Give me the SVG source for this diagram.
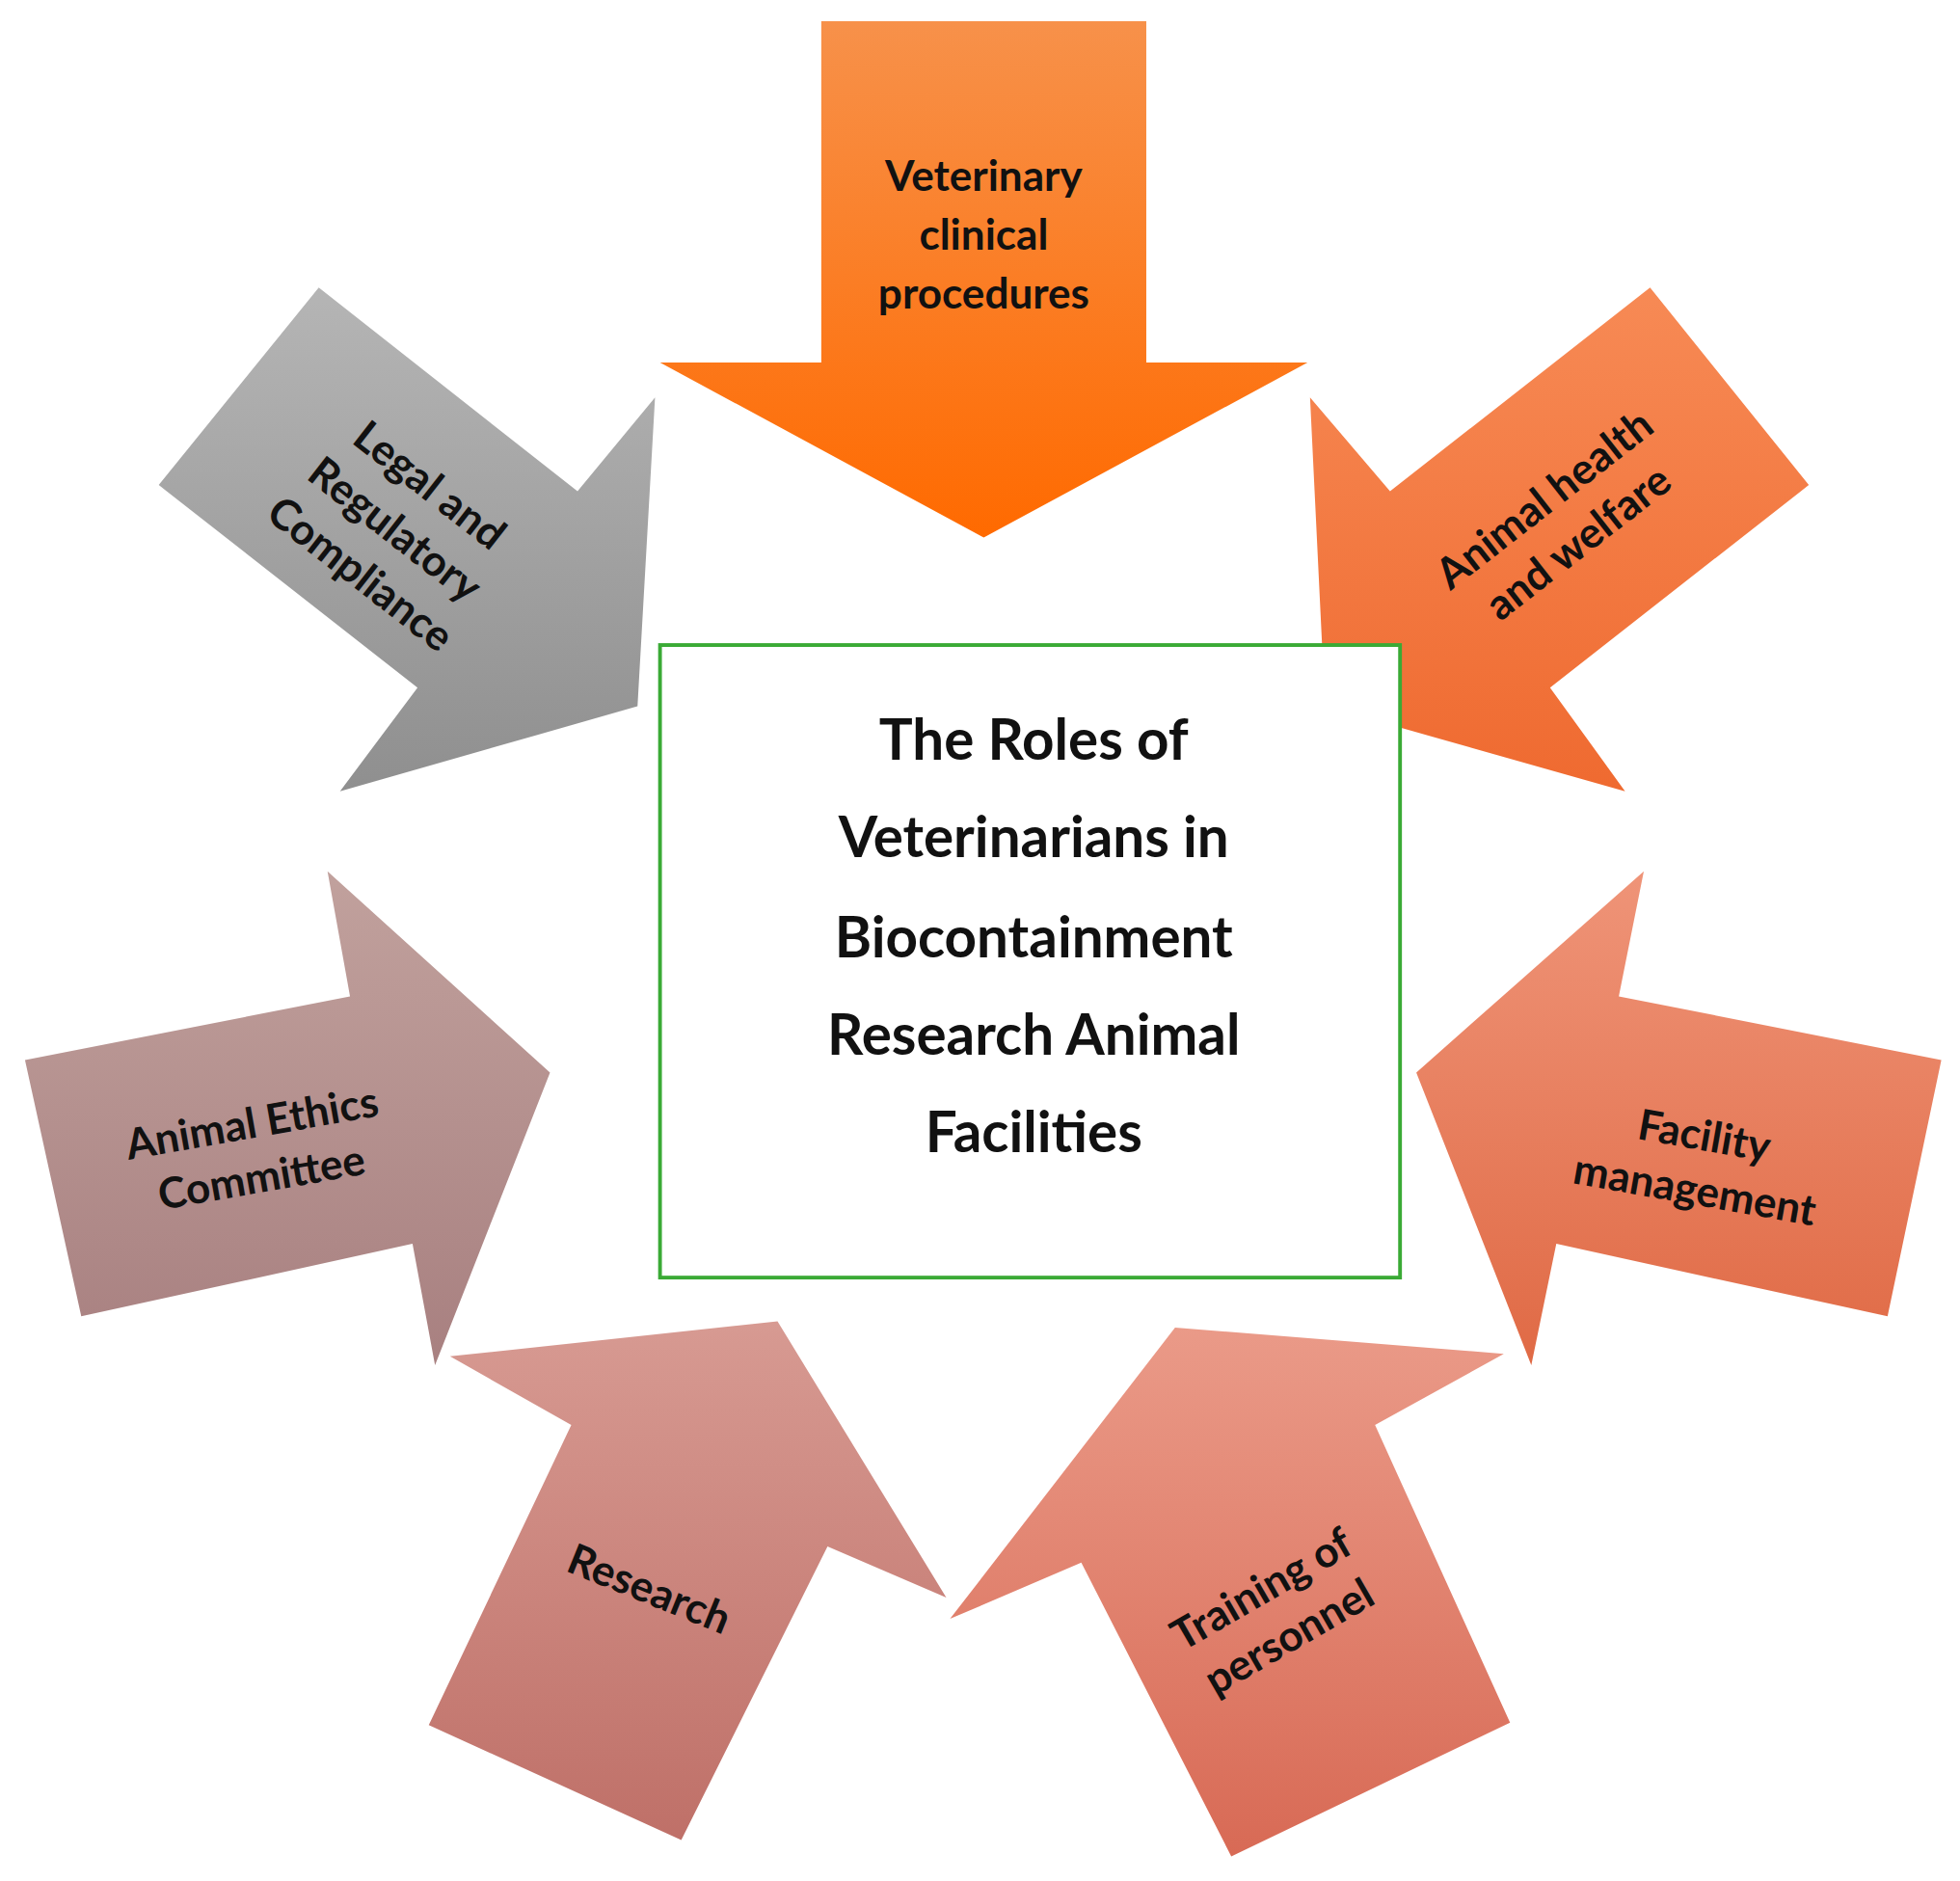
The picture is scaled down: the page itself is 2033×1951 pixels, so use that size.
<svg xmlns="http://www.w3.org/2000/svg" width="2033" height="1951" viewBox="0 0 2033 1951">
<style>
.t{font-family:Lato,"Open Sans",sans-serif;font-weight:bold;fill:#111;text-anchor:middle}
.a{font-size:34px}
.c{font-size:45px}
</style>
<defs>
<linearGradient id="gTop" x1="0" y1="0" x2="0" y2="1"><stop offset="0" stop-color="#f7914a"/><stop offset="1" stop-color="#ff6a00"/></linearGradient>
<linearGradient id="gGray" x1="0" y1="0" x2="0" y2="1"><stop offset="0" stop-color="#b5b5b5"/><stop offset="1" stop-color="#8f8f8f"/></linearGradient>
<linearGradient id="gAH" x1="0" y1="0" x2="0" y2="1"><stop offset="0" stop-color="#f78a55"/><stop offset="1" stop-color="#ef6a30"/></linearGradient>
<linearGradient id="gEth" x1="0" y1="0" x2="0" y2="1"><stop offset="0" stop-color="#c1a19d"/><stop offset="1" stop-color="#a88080"/></linearGradient>
<linearGradient id="gFac" x1="0" y1="0" x2="0" y2="1"><stop offset="0" stop-color="#ef9478"/><stop offset="1" stop-color="#e06a45"/></linearGradient>
<linearGradient id="gRes" x1="0" y1="0" x2="0" y2="1"><stop offset="0" stop-color="#d79a92"/><stop offset="1" stop-color="#bf7068"/></linearGradient>
<linearGradient id="gTr" x1="0" y1="0" x2="0" y2="1"><stop offset="0" stop-color="#ea9a88"/><stop offset="1" stop-color="#d86a55"/></linearGradient>
</defs>
<rect width="2033" height="1951" fill="#fff"/>
<g transform="scale(1.2966)">
<g id="vet">
<polygon points="657,17 917,17 917,290 1046,290 787,430 528,290 657,290" fill="url(#gTop)"/>
<text class="t a" x="787" y="153">Veterinary</text><text class="t a" x="787" y="200">clinical</text><text class="t a" x="787" y="247">procedures</text>
</g>
<g id="legal">
<polygon points="255,230 462,393 524,318 510,565 272,633 334,550 127,388" fill="url(#gGray)"/>
<g transform="translate(315,425) rotate(38)"><text class="t a" x="0" y="-35">Legal and</text><text class="t a" x="0" y="10">Regulatory</text><text class="t a" x="0" y="55">Compliance</text></g>
</g>
<g id="health">
<polygon points="1320,230 1447,388 1240,550 1300,633 1060,565 1048,318 1112,393" fill="url(#gAH)"/>
<g transform="translate(1250,418) rotate(-38)"><text class="t a" x="0" y="-12">Animal health</text><text class="t a" x="0" y="32">and welfare</text></g>
</g>
<g id="ethics">
<polygon points="20,848 280,797 262,697 440,858 348,1092 330,995 65,1053" fill="url(#gEth)"/>
<g transform="translate(205,918) rotate(-10)"><text class="t a" x="0" y="-8">Animal Ethics</text><text class="t a" x="0" y="36">Committee</text></g>
</g>
<g id="facility">
<polygon points="1295,797 1315,697 1133,858 1225,1092 1245,995 1510,1053 1553,848" fill="url(#gFac)"/>
<g transform="translate(1360,928) rotate(10)"><text class="t a" x="0" y="-8">Facility</text><text class="t a" x="0" y="36">management</text></g>
</g>
<g id="research">
<polygon points="360,1085 622,1057 757,1278 662,1237 545,1472 343,1380 457,1140" fill="url(#gRes)"/>
<g transform="translate(515,1282) rotate(22)"><text class="t a" x="0" y="0">Research</text></g>
</g>
<g id="training">
<polygon points="1203,1083 940,1062 760,1295 865,1250 985,1485 1208,1378 1100,1140" fill="url(#gTr)"/>
<g transform="translate(1020,1290) rotate(-30)"><text class="t a" x="0" y="-10">Training of</text><text class="t a" x="0" y="34">personnel</text></g>
</g>
<g id="center">
<rect x="528" y="516" width="592" height="506" fill="#fff" stroke="#3aaa35" stroke-width="3"/>
<text class="t c" x="827" y="608">The Roles of</text><text class="t c" x="827" y="686">Veterinarians in</text><text class="t c" x="827" y="766">Biocontainment</text><text class="t c" x="827" y="844">Research Animal</text><text class="t c" x="827" y="922">Facilities</text>
</g>
<g id="connectors"/>
</g>
</svg>
